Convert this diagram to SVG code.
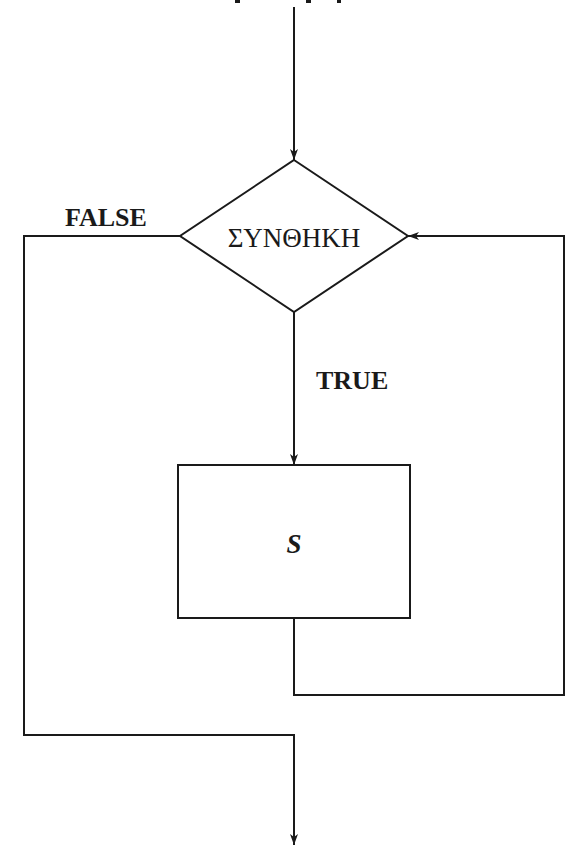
<svg xmlns="http://www.w3.org/2000/svg" width="568" height="848" viewBox="0 0 568 848">
<style>
.ln{fill:none;stroke:#1a1a1a;stroke-width:2}
.sh{fill:#fff;stroke:#1a1a1a;stroke-width:2}
.lbl{font-family:"Liberation Serif",serif;font-weight:bold;font-size:26px;fill:#1a1a1a}
.t{font-family:"Liberation Serif",serif;font-size:27px;fill:#1a1a1a;text-anchor:middle}
</style>
<defs>
<marker id="ah" markerWidth="12" markerHeight="8" refX="11" refY="4" orient="auto" markerUnits="userSpaceOnUse">
<path d="M0,0 L11,4 L0,8 L3,4 Z" fill="#1a1a1a"/>
</marker>
</defs>
<rect width="568" height="848" fill="#fff"/>
<g id="crop-marks" fill="#1a1a1a">
<rect x="235" y="0" width="5" height="3"/>
<rect x="306" y="0" width="5" height="3"/>
<rect x="337" y="0" width="4" height="3"/>
</g>
<g id="connectors">
<line class="ln" x1="294" y1="7" x2="294" y2="160" marker-end="url(#ah)"/>
<line class="ln" x1="294" y1="312" x2="294" y2="465" marker-end="url(#ah)"/>
<polyline class="ln" points="180,236 24,236 24,735 294,735 294,845" marker-end="url(#ah)"/>
<polyline class="ln" points="294,618 294,695 564,695 564,236 408,236" marker-end="url(#ah)"/>
</g>
<g id="cond">
<polygon class="sh" points="294,160 408,236 294,312 180,236"/>
<text class="t" x="294" y="247">ΣΥΝΘΗΚΗ</text>
</g>
<g id="stmt">
<rect class="sh" x="178" y="465" width="232" height="153"/>
<text class="t" x="294" y="553" font-style="italic" font-weight="bold" font-size="26">S</text>
</g>
<g id="labels">
<text class="lbl" x="65" y="226">FALSE</text>
<text class="lbl" x="316" y="389">TRUE</text>
</g>
</svg>
